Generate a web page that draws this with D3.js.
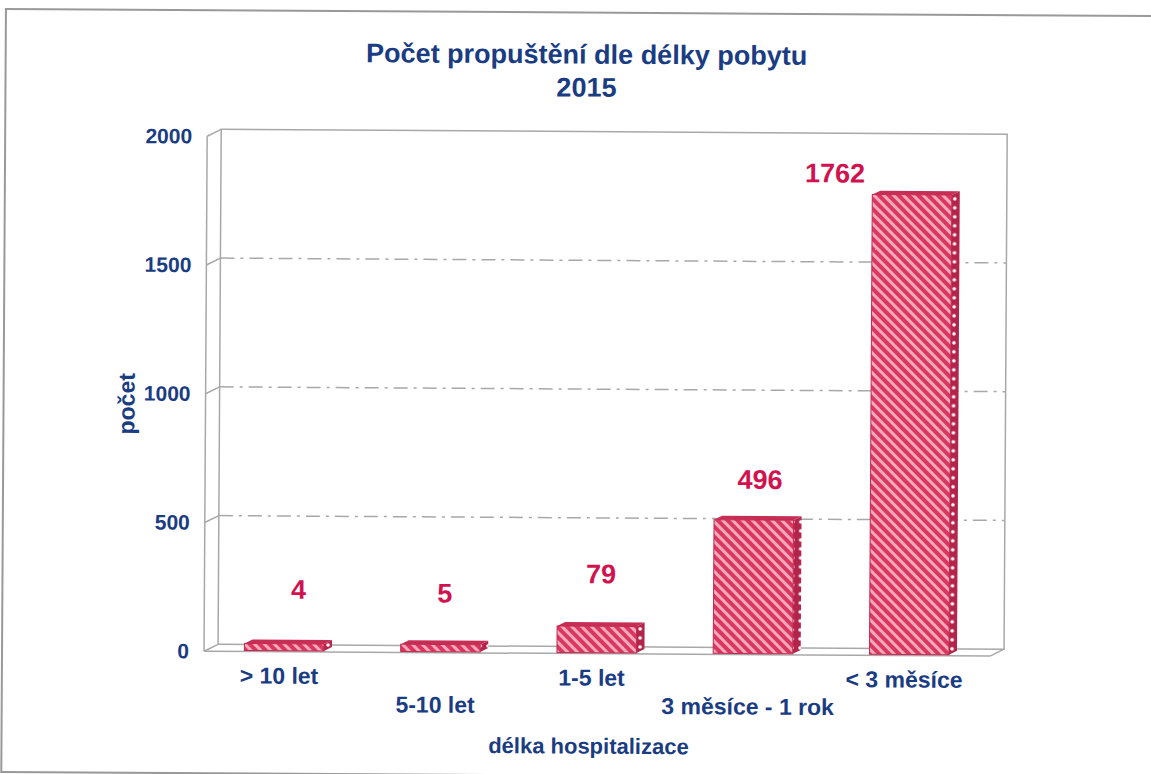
<!DOCTYPE html>
<html>
<head>
<meta charset="utf-8">
<script src="https://cdn.jsdelivr.net/npm/d3@7"></script>
<style>
  body { margin: 0; background: #fff; }
  text { font-family: "Liberation Sans", Arial, sans-serif; font-weight: bold; }
</style>
</head>
<body>
<svg width="1151" height="774"></svg>
<script>
// data
var categories = ['> 10 let', '5-10 let', '1-5 let', '3 měsíce - 1 rok', '< 3 měsíce'];
var values = [4, 5, 79, 496, 1762];
var yTicks = [0, 500, 1000, 1500, 2000];

// label nudges (layout only, value labels sit oddly in the original)
var labelDx = [10, 0, 0, 2, -81];
var labelDy = [-45, -42, -43, -31, -12];

var navy = '#1a3c82', red = '#d1124f', grey = '#a8a8a8';
var depthX = 14, depthY = 7;

var svg = d3.select('svg');
var defs = svg.append('defs');
var pat = defs.append('pattern')
    .attr('id', 'stripes')
    .attr('patternUnits', 'userSpaceOnUse')
    .attr('width', 7).attr('height', 7)
    .attr('patternTransform', 'rotate(-45)');
pat.append('rect').attr('width', 7).attr('height', 7).attr('fill', '#d93760');
pat.append('rect').attr('width', 3).attr('height', 7).attr('fill', '#f6a9bb');

var dots = defs.append('pattern')
    .attr('id', 'dots')
    .attr('patternUnits', 'userSpaceOnUse')
    .attr('width', 8).attr('height', 9);
dots.append('rect').attr('width', 8).attr('height', 9).attr('fill', '#b3244b');
dots.append('circle').attr('cx', 4).attr('cy', 4).attr('r', 1.8).attr('fill', '#fff');

// the scan is tilted a little
var g = svg.append('g').attr('transform', 'rotate(0.35)');

// outer frame
g.append('rect')
    .attr('x', 6).attr('y', 9).attr('width', 1160).attr('height', 763)
    .attr('fill', 'none').attr('stroke', '#999').attr('stroke-width', 2);

var x = d3.scaleBand()
    .domain(categories)
    .range([208, 994])
    .paddingInner(0.44)
    .paddingOuter(0.235)
    .align(0.55);

var y = d3.scaleLinear()
    .domain([0, 2000])
    .range([650, 135]);

var x0 = x.range()[0], x1 = x.range()[1];

// back wall
g.append('rect')
    .attr('x', x0 + depthX).attr('y', y(2000) - depthY)
    .attr('width', x1 - x0).attr('height', y(0) - y(2000))
    .attr('fill', 'none').attr('stroke', grey).attr('stroke-width', 1.5);

// gridlines on the back wall
g.selectAll('.grid')
    .data(yTicks.filter(function(d) { return d > 0 && d < 2000; }))
    .enter().append('line')
    .attr('x1', x0 + depthX).attr('x2', x1 + depthX)
    .attr('y1', function(d) { return y(d) - depthY; })
    .attr('y2', function(d) { return y(d) - depthY; })
    .attr('stroke', grey).attr('stroke-width', 1.5)
    .attr('stroke-dasharray', '14,6,3,6');

// side wall and floor
g.append('line')
    .attr('x1', x0).attr('x2', x0).attr('y1', y(2000)).attr('y2', y(0))
    .attr('stroke', grey).attr('stroke-width', 1.5);
g.selectAll('.tick3d')
    .data(yTicks)
    .enter().append('line')
    .attr('x1', x0).attr('x2', x0 + depthX)
    .attr('y1', function(d) { return y(d); })
    .attr('y2', function(d) { return y(d) - depthY; })
    .attr('stroke', grey).attr('stroke-width', 1.5);
g.append('line')
    .attr('x1', x0).attr('x2', x1).attr('y1', y(0)).attr('y2', y(0))
    .attr('stroke', grey).attr('stroke-width', 1.5);
g.append('line')
    .attr('x1', x1).attr('x2', x1 + depthX).attr('y1', y(0)).attr('y2', y(0) - depthY)
    .attr('stroke', grey).attr('stroke-width', 1.5);

// y axis labels
var yAxis = d3.axisLeft(y).tickValues(yTicks).tickFormat(d3.format('d')).tickSize(0).tickPadding(15);
var ya = g.append('g').attr('transform', 'translate(' + x0 + ',0)').call(yAxis);
ya.select('.domain').remove();
ya.selectAll('text')
    .attr('fill', navy)
    .style('font-size', '21px')
    .style('font-family', '"Liberation Sans", Arial, sans-serif')
    .style('font-weight', 'bold');

// bars
var side = 8, sideY = 4;
var bars = g.selectAll('.bar')
    .data(values)
    .enter().append('g');

bars.append('path')
    .attr('d', function(d, i) {
        var bx = x(categories[i]) + x.bandwidth() - side, top = y(d) - depthY, bot = y(0) - 1;
        return 'M' + bx + ',' + top + 'L' + (bx + side) + ',' + (top - sideY) +
            'L' + (bx + side) + ',' + (bot - sideY) + 'L' + bx + ',' + bot + 'Z';
    })
    .attr('fill', 'url(#dots)');

bars.append('path')
    .attr('d', function(d, i) {
        var bx = x(categories[i]), w = x.bandwidth() - side, top = y(d) - depthY;
        return 'M' + bx + ',' + top + 'L' + (bx + side) + ',' + (top - sideY) +
            'L' + (bx + w + side) + ',' + (top - sideY) + 'L' + (bx + w) + ',' + top + 'Z';
    })
    .attr('fill', '#c72e55');

bars.append('rect')
    .attr('x', function(d, i) { return x(categories[i]); })
    .attr('y', function(d) { return y(d) - depthY; })
    .attr('width', x.bandwidth() - side)
    .attr('height', function(d) { return y(0) - 1 - (y(d) - depthY); })
    .attr('fill', 'url(#stripes)')
    .attr('stroke', '#c3284f').attr('stroke-width', 1);

// value labels
bars.append('text')
    .attr('x', function(d, i) { return x(categories[i]) + x.bandwidth() / 2 + labelDx[i]; })
    .attr('y', function(d, i) { return y(d) - depthY + labelDy[i]; })
    .attr('text-anchor', 'middle')
    .attr('fill', red)
    .style('font-size', '27px')
    .text(function(d) { return d; });

// category labels, staggered
g.selectAll('.cat')
    .data(categories)
    .enter().append('text')
    .attr('x', function(d) { return x(d) + x.bandwidth() / 2 - 9; })
    .attr('y', function(d, i) { return y(0) + (i % 2 ? 60 : 32); })
    .attr('text-anchor', 'middle')
    .attr('fill', navy)
    .style('font-size', '23px')
    .text(function(d) { return d; });

// titles
g.append('text')
    .attr('x', 587).attr('y', 60)
    .attr('text-anchor', 'middle').attr('fill', navy)
    .style('font-size', '27px')
    .text('Počet propuštění dle délky pobytu');
g.append('text')
    .attr('x', 587).attr('y', 93)
    .attr('text-anchor', 'middle').attr('fill', navy)
    .style('font-size', '27px')
    .text('2015');

g.append('text')
    .attr('x', 593).attr('y', 750)
    .attr('text-anchor', 'middle').attr('fill', navy)
    .style('font-size', '22px')
    .text('délka hospitalizace');

g.append('text')
    .attr('transform', 'translate(137,403) rotate(-90)')
    .attr('text-anchor', 'middle').attr('fill', navy)
    .style('font-size', '23px')
    .text('počet');
</script>
</body>
</html>
